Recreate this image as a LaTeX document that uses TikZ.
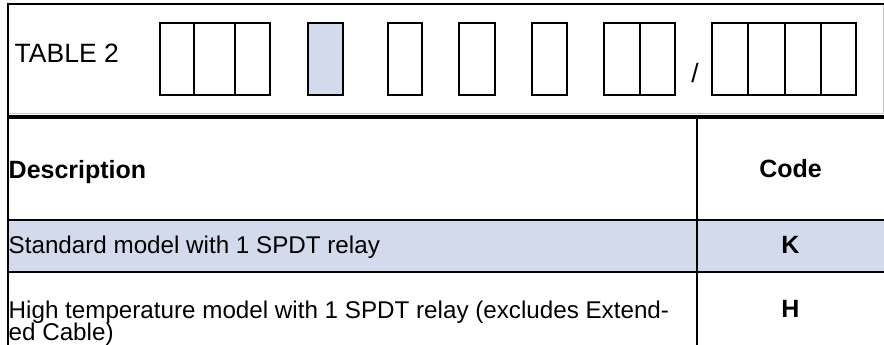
\documentclass[tikz,border=0pt]{standalone}
\usepackage{fontspec}
\setmainfont{Liberation Sans}
\definecolor{rowblue}{RGB}{211,218,235}
\definecolor{edgegray}{RGB}{200,200,200}
\begin{document}
\begin{tikzpicture}[x=1pt,y=-1pt,
  txt/.style={inner sep=0pt, font=\fontsize{24.2}{22}\selectfont},
  bigtxt/.style={inner sep=0pt, font=\fontsize{26.5}{26}\selectfont},
  boldtxt/.style={inner sep=0pt, font=\fontsize{25}{22}\selectfont\bfseries},
  digit/.style={draw=black, line width=2pt},
  rule/.style={draw=black, line width=2pt}]
\useasboundingbox (0,0) rectangle (884,345);

% shaded row of the table
\fill[rowblue] (9,221) rectangle (884,271);

% header frame
\draw[edgegray, line width=1pt] (8,113.5) -- (884,113.5);
\draw[edgegray, line width=1pt] (883.5,4) -- (883.5,113.5);
\draw[rule] (7,4) -- (884,4);
\draw[rule] (8,3) -- (8,345);
\draw[black, line width=4pt] (7,117) -- (884,117);

% table rules
\draw[rule] (697.3,119) -- (697.3,345);
\draw[rule] (7,220) -- (884,220);
\draw[rule] (7,272) -- (884,272);

% code boxes
\draw[digit] (160,23) rectangle (270,95);
\draw[digit] (194.3,23) -- (194.3,95);
\draw[digit] (235,23) -- (235,95);
\draw[digit, fill=rowblue] (308,23) rectangle (343,95);
\draw[digit] (388,23) rectangle (422,95);
\draw[digit] (459,23) rectangle (495,95);
\draw[digit] (532,23) rectangle (567,95);
\draw[digit] (604,23) rectangle (675,95);
\draw[digit] (639.7,23) -- (639.7,95);
\draw[digit] (712,23) rectangle (856,95);
\draw[digit] (748,23) -- (748,95);
\draw[digit] (784.7,23) -- (784.7,95);
\draw[digit] (820.7,23) -- (820.7,95);

% texts
\node[bigtxt, anchor=base west] (title) at (14.5,63) {TABLE 2};
\node[bigtxt, anchor=base] (slash) at (695,82) {/};
\node[boldtxt, anchor=base west] (deschead) at (8.5,178) {Description};
\node[boldtxt, anchor=base] (codehead) at (790.5,177) {Code};
\node[txt, anchor=base west] (desck) at (8.5,253) {Standard model with 1 SPDT relay};
\node[boldtxt, anchor=base] (codek) at (790.5,253) {K};
\node[txt, anchor=base west] (desch1) at (8.5,318) {High temperature model with 1 SPDT relay (excludes Extend-};
\node[txt, anchor=base west] (desch2) at (8.5,340) {ed Cable)};
\node[boldtxt, anchor=base] (codeh) at (790.5,317) {H};
\end{tikzpicture}
\end{document}
